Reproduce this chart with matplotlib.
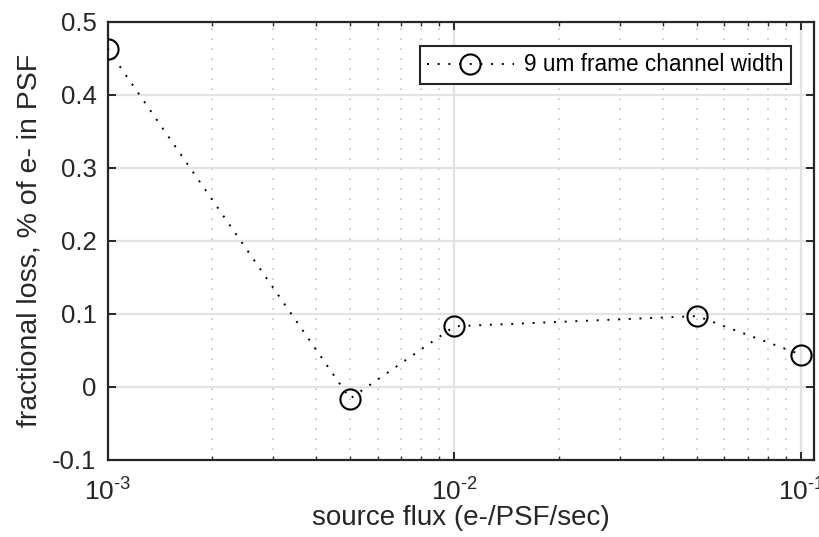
import matplotlib
matplotlib.use("Agg")
import matplotlib.pyplot as plt
from matplotlib.ticker import LogLocator, NullFormatter, FuncFormatter
import math

plt.rcParams['font.family'] = ['Liberation Sans', 'DejaVu Sans']
plt.rcParams['mathtext.fontset'] = 'custom'
plt.rcParams['mathtext.rm'] = 'Liberation Sans'
plt.rcParams['mathtext.it'] = 'Liberation Sans'
plt.rcParams['mathtext.bf'] = 'Liberation Sans'

flux = [1e-3, 5e-3, 1e-2, 5e-2, 1e-1]
loss = [0.463, -0.016, 0.083, 0.097, 0.044]
series_label = "9 um frame channel width"
y_ticks = [-0.1, 0, 0.1, 0.2, 0.3, 0.4, 0.5]
y_ticklabels = ['-0.1', '0', '0.1', '0.2', '0.3', '0.4', '0.5']

DARK = '#262626'

fig = plt.figure(figsize=(8.19, 5.37), dpi=100)
ax = fig.add_axes([0.1313, 0.1434, 0.8626, 0.8162])

ax.plot(flux, loss, linestyle=(0, (1, 4.5)), color='black', linewidth=1.4,
        marker='o', markersize=14.5, markerfacecolor='none', markeredgecolor='black',
        markeredgewidth=1.5, label=series_label, zorder=3)

ax.set_xscale('log')
ax.set_xlim(1e-3, 0.1087)
ax.set_ylim(-0.1, 0.5)
ax.set_yticks(y_ticks)
ax.set_yticklabels(y_ticklabels)
ax.xaxis.set_major_locator(LogLocator(base=10, numticks=10))
ax.xaxis.set_minor_locator(LogLocator(base=10, subs=range(2, 10), numticks=10))
ax.xaxis.set_minor_formatter(NullFormatter())

def fmt(v, pos):
    e = int(round(math.log10(v)))
    s = str(e).replace('-', '\u2010')
    return r'$\mathregular{10^{' + s + r'}}$'
ax.xaxis.set_major_formatter(FuncFormatter(fmt))

ax.grid(True, which='major', color='#e3e3e3', linestyle='-', linewidth=1.6)
ax.grid(True, which='minor', axis='x', color='#c4c4c4', linestyle=(0, (1, 5)), linewidth=1.2)
ax.set_axisbelow(True)

ax.tick_params(which='both', direction='in', top=True, right=True, colors=DARK)
ax.tick_params(axis='y', labelsize=18.5, pad=8)
ax.tick_params(axis='x', labelsize=19, pad=13)
ax.tick_params(which='major', length=5.5, width=1.4)
ax.tick_params(which='minor', length=3, width=1.0)
for sp in ax.spines.values():
    sp.set_linewidth(1.6)
    sp.set_color(DARK)

ax.set_xlabel('source flux (e-/PSF/sec)', fontsize=20, color=DARK, labelpad=0)
ax.set_ylabel('fractional loss, % of e- in PSF', fontsize=20.5, color=DARK, labelpad=7)

leg = ax.legend(loc='upper right', bbox_to_anchor=(0.9674, 0.9445), fontsize=16.25,
                frameon=True, fancybox=False, edgecolor=DARK, framealpha=1,
                borderaxespad=0.0, handlelength=3.85, borderpad=0.33,
                handletextpad=0.45)
leg.get_frame().set_linewidth(1.5)

fig.savefig('out.png', dpi=100)
